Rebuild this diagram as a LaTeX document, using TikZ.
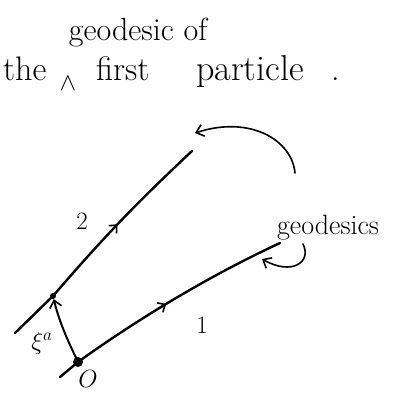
\documentclass[tikz,border=0pt]{standalone}
\usepackage{fontspec}
\usetikzlibrary{arrows.meta,decorations.markings}
\tikzset{
  geo/.style={line width=2.4pt, line cap=round},
  thinarr/.style={line width=1.6pt, line cap=round, -{Straight Barb[length=7pt,width=12pt,line width=1.6pt]}},
  midarrow/.style={postaction={decorate},decoration={markings,mark=at position #1 with {\arrow{Straight Barb[length=6pt,width=11pt,line width=1.6pt]}}}},
  txt/.style={inner sep=0pt, font=\fontsize{#1}{#1}\selectfont},
  dot/.style={circle, fill=black, inner sep=0pt, minimum size=#1}
}
\begin{document}
\begin{tikzpicture}[x=1pt,y=-1pt]
\useasboundingbox (0,0) rectangle (401,397);
% text
\node[txt=32] (t1) at (138,33) {geodesic of};
\node[txt=34, anchor=base west] (the) at (3,80) {the};
\node[txt=26] (caret) at (68,84) {$\wedge$};
\node[txt=34, anchor=base west] (first) at (96,80) {first};
\node[txt=36, anchor=base west] (particle) at (196,80) {particle};
\node[txt=34, anchor=base west] (dot) at (331,80) {.};
% points
\node[dot=6pt] (p2) at (53,296) {};
\node[dot=10pt] (p0) at (78,362) {};
\coordinate (a2) at (15,333);
\coordinate (b2) at (192,151);
\coordinate (a1) at (60,377);
\coordinate (b1) at (280,243);
% geodesics
\draw[geo] (a2) -- (p2.center);
\draw[geo, midarrow=0.48] (p2.center) to[bend left=3] (b2);
\draw[geo] (a1) -- (p0.center);
\draw[geo, midarrow=0.45] (p0.center) .. controls (125,328) and (200,280) .. (b1);
% labels
\node[txt=25] (n2) at (82,221) {2};
\node[txt=25] (n1) at (202,325) {1};
\node[txt=25] (o) at (88,379) {$O$};
\node[txt=27] (xi) at (42,343) {$\xi^a$};
\node[txt=28] (geos) at (328,228) {geodesics};
% xi arrow
\draw[line width=2pt, -{Straight Barb[length=7pt,width=12pt,line width=1.6pt]}] (p0.center) .. controls (70,345) and (60,325) .. (p2);
% annotation arrows
\coordinate (c1) at (295,173);
\coordinate (c2) at (195,133);
\draw[thinarr] (c1) .. controls (292,140) and (250,115) .. (c2);
\coordinate (g1) at (303,244);
\coordinate (g2) at (262,259);
\draw[thinarr] (g1) .. controls (312,262) and (292,276) .. (g2);
\end{tikzpicture}
\end{document}
